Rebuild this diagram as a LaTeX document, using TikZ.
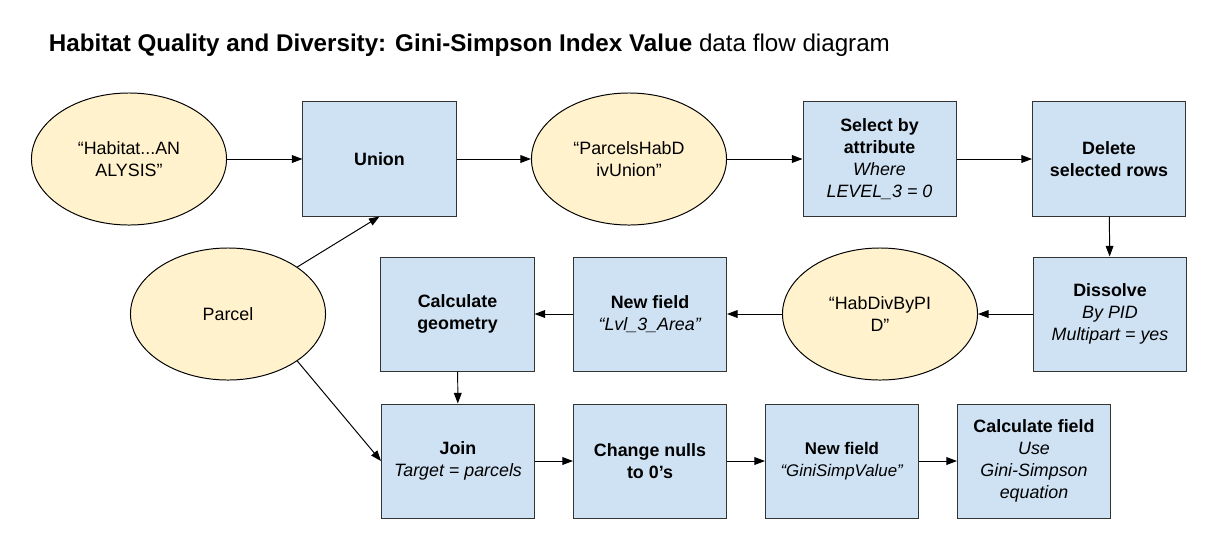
\documentclass[tikz,border=0pt]{standalone}
\usepackage{fontspec}
\setmainfont{Liberation Sans}
\usetikzlibrary{arrows.meta,shapes.geometric}
\definecolor{procblue}{HTML}{CFE2F3}
\definecolor{datayellow}{HTML}{FFF2CC}
\definecolor{edgegray}{HTML}{333333}

\begin{document}
\begin{tikzpicture}[x=0.025cm,y=-0.025cm,
    proc/.style={draw=edgegray,fill=procblue,line width=0.7pt,minimum width=3.825cm,minimum height=2.85cm,inner sep=0pt,align=center,font=\fontsize{12.7}{15.6}\selectfont},
    data/.style={draw=black,fill=datayellow,shape=ellipse,line width=0.7pt,minimum width=4.875cm,minimum height=3.3cm,inner sep=0pt,align=center,font=\fontsize{12.7}{15.6}\selectfont},
    flow/.style={-{Triangle[length=7.5pt,width=5.5pt]},line width=0.7pt}]
            \useasboundingbox (0,0) rectangle (1220,554);
            \node[anchor=base west,font=\fontsize{17.2}{20}\selectfont] (title) at (44,51) {\textbf{Habitat Quality and Diversity: Gini-Simpson Index Value} data flow diagram};
            \node[data] (habitat) at (129,159) {“Habitat...AN\\ALYSIS”};
            \node[proc] (union) at (379.5,159) {\textbf{Union}};
            \node[data] (hdunion) at (629,159) {“ParcelsHabD\\ivUnion”};
            \node[proc] (select) at (879.5,159) {\textbf{Select by}\\\textbf{attribute}\\\textit{Where}\\\textit{LEVEL\_3 = 0}};
            \node[proc] (delrows) at (1109,159) {\textbf{Delete}\\\textbf{selected rows}};
            \node[proc] (dissolve) at (1110,314) {\textbf{Dissolve}\\\textit{By PID}\\\textit{Multipart = yes}};
            \node[data] (hdpid) at (880,314) {“HabDivByPI\\D”};
            \node[proc] (lvlfield) at (650,314) {\textbf{New field}\\\textit{“Lvl\_3\_Area”}};
            \node[proc] (calcgeom) at (457.5,314) {\textbf{Calculate}\\\textbf{geometry}};
            \node[data] (parcel) at (228,314) {Parcel};
            \node[proc] (join) at (458,461) {\textbf{Join}\\\textit{Target = parcels}};
            \node[proc] (nulls) at (650,461) {\textbf{Change nulls}\\\textbf{to 0’s}};
            \node[proc,font=\fontsize{12}{15.6}\selectfont] (ginifield) at (842,461) {\textbf{New field}\\\textit{“GiniSimpValue”}};
            \node[proc] (calcfield) at (1034,461) {\textbf{Calculate field}\\\textit{Use}\\\textit{Gini-Simpson}\\\textit{equation}};
            \draw[flow] (habitat) -- (union);
            \draw[flow] (union) -- (hdunion);
            \draw[flow] (hdunion) -- (select);
            \draw[flow] (select) -- (delrows);
            \draw[flow] (delrows) -- (dissolve);
            \draw[flow] (dissolve) -- (hdpid);
            \draw[flow] (hdpid) -- (lvlfield);
            \draw[flow] (lvlfield) -- (calcgeom);
            \draw[flow] (calcgeom) -- (join);
            \draw[flow] (parcel.north east) -- (union.south);
            \draw[flow] (parcel.south east) -- (join.west);
            \draw[flow] (join) -- (nulls);
            \draw[flow] (nulls) -- (ginifield);
            \draw[flow] (ginifield) -- (calcfield);
        \end{tikzpicture}
\end{document}
